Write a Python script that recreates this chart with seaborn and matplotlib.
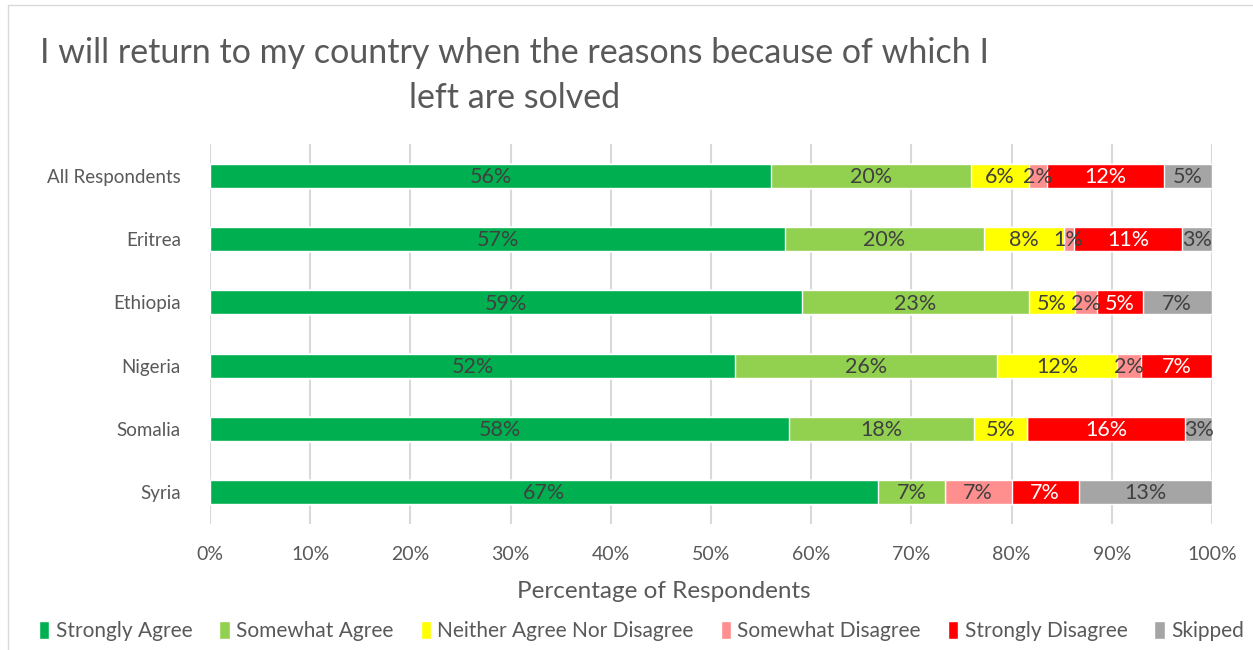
"""Stacked agreement bars: returning home once the reasons for leaving are solved."""
import matplotlib.pyplot as plt
import numpy as np
import pandas as pd
import seaborn as sns
from matplotlib.patches import Patch, Rectangle

groups = ["All Respondents", "Eritrea", "Ethiopia", "Nigeria", "Somalia", "Syria"]
responses = [
    "Strongly Agree",
    "Somewhat Agree",
    "Neither Agree Nor Disagree",
    "Somewhat Disagree",
    "Strongly Disagree",
    "Skipped",
]
strongly_agree = [56.0, 57.4, 59.05, 52.4, 57.8, 66.67]
somewhat_agree = [19.93, 19.8, 22.7, 26.15, 18.46, 6.67]
neither = [5.85, 7.98, 4.56, 11.94, 5.29, 0.0]
somewhat_disagree = [1.74, 1.0, 2.2, 2.43, 0.0, 6.67]
strongly_disagree = [11.64, 10.85, 4.6, 7.09, 15.8, 6.67]
skipped = [4.86, 2.99, 6.85, 0.0, 2.63, 13.33]

colors = ["#00B050", "#92D050", "#FFFF00", "#FF8F8F", "#FF0000", "#A5A5A5"]
label_colors = ["#404040", "#404040", "#404040", "#404040", "#FFFFFF", "#404040"]

sns.set_theme(style="white")
plt.rcParams["font.family"] = ["Lato", "DejaVu Sans"]

series = [strongly_agree, somewhat_agree, neither, somewhat_disagree, strongly_disagree, skipped]
vals = np.array(series)
cum = vals.cumsum(axis=0)

fig = plt.figure(figsize=(12.53, 6.5), dpi=100)
ax = fig.add_axes([0.1676, 0.1945, 0.7997, 0.5833])

# draw cumulative totals from the right end back so each layer sits on the previous
for i in range(len(responses) - 1, -1, -1):
    df = pd.DataFrame({"Group": groups, "Value": cum[i]})
    sns.barplot(data=df, x="Value", y="Group", color=colors[i], width=0.38,
                saturation=1, ax=ax, zorder=2)

for i in range(len(responses)):
    for j, g in enumerate(groups):
        v = vals[i, j]
        if v <= 0:
            continue
        xc = cum[i, j] - v / 2
        ax.text(xc, j + 0.02, f"{round(v)}%", ha="center", va="center",
                fontsize=15.5, color=label_colors[i], zorder=3)

ax.set_xlim(0, 100)
ax.set_ylim(5.5, -0.5)
ax.set_xticks(np.arange(0, 101, 10))
ax.set_xticklabels([f"{t}%" for t in range(0, 101, 10)])
ax.xaxis.grid(True, color="#D9D9D9", linewidth=1.5, zorder=0)
ax.set_axisbelow(True)
for s in ax.spines.values():
    s.set_visible(False)
ax.tick_params(axis="x", length=0, labelsize=14, labelcolor="#595959", pad=16)
ax.tick_params(axis="y", length=0, labelsize=13.5, labelcolor="#595959", pad=21)
ax.set_ylabel("")
ax.set_xlabel("Percentage of Respondents", fontsize=17.5, color="#595959")
ax.xaxis.set_label_coords(0.453, -0.152)

fig.text(0.411, 0.884, "I will return to my country when the reasons because of which I\nleft are solved",
         ha="center", va="center", fontsize=24.5, color="#595959", linespacing=1.5)

handles = [Patch(facecolor=c, label=r) for c, r in zip(colors, responses)]
fig.legend(handles=handles, loc="center", bbox_to_anchor=(0.512, 0.029), ncol=6,
           frameon=False, fontsize=15, handlelength=0.5, handleheight=0.9,
           handletextpad=0.3, columnspacing=1.3, labelcolor="#595959")

fig.patches.append(Rectangle((0.006, -0.01), 1.2, 1.002, transform=fig.transFigure,
                             fill=False, edgecolor="#D9D9D9", linewidth=1))

fig.savefig("out.png", dpi=100)
